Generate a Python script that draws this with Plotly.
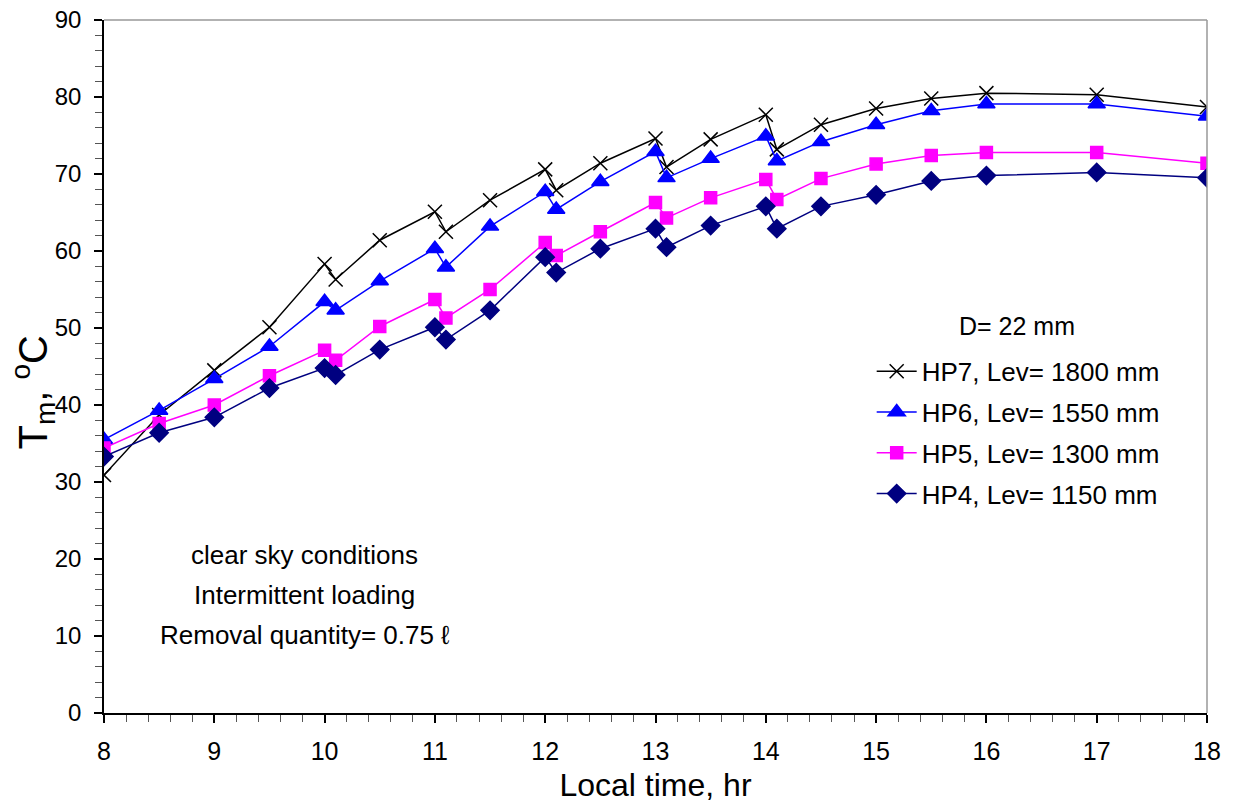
import plotly.graph_objects as go

time_hr = [8, 8.5, 9, 9.5, 10, 10.1, 10.5, 11, 11.1, 11.5, 12, 12.1, 12.5, 13, 13.1,
           13.5, 14, 14.1, 14.5, 15, 15.5, 16, 17, 18]

hp7 = [30.9, 38.7, 44.5, 50.1, 58.3, 56.3, 61.4, 65.1, 62.5, 66.6, 70.6, 67.9, 71.4, 74.6, 70.9,
       74.5, 77.7, 73.2, 76.4, 78.5, 79.8, 80.5, 80.3, 78.7]
hp6 = [35.5, 39.3, 43.4, 47.6, 53.4, 52.3, 56.1, 60.3, 57.9, 63.2, 67.7, 65.4, 69.0, 72.9, 69.5,
       72.0, 74.9, 71.7, 74.2, 76.4, 78.2, 79.1, 79.1, 77.5]
hp5 = [34.4, 37.6, 40.0, 43.8, 47.1, 45.8, 50.2, 53.7, 51.3, 55.0, 61.1, 59.4, 62.5, 66.3, 64.3,
       66.9, 69.3, 66.7, 69.4, 71.3, 72.4, 72.8, 72.8, 71.4]
hp4 = [33.3, 36.4, 38.4, 42.2, 44.8, 43.9, 47.2, 50.1, 48.5, 52.3, 59.2, 57.2, 60.3, 62.9, 60.5,
       63.3, 65.8, 62.9, 65.8, 67.3, 69.1, 69.8, 70.2, 69.5]

names = ["HP7, Lev= 1800 mm", "HP6, Lev= 1550 mm", "HP5, Lev= 1300 mm", "HP4, Lev= 1150 mm"]
colors = ["#000000", "#0000FF", "#FF00FF", "#000080"]
symbols = ["x-thin", "triangle-up", "square", "diamond"]
sizes = [14, 15, 12, 14]

note_lines = ["clear sky conditions", "Intermittent loading", "Removal quantity= 0.75 ℓ"]
note_y = [20.5, 15.3, 10.1]

font_main = "Liberation Sans, Arial, sans-serif"

fig = go.Figure()
for i, (vals, nm, col, sym, sz) in enumerate(zip([hp7, hp6, hp5, hp4], names, colors, symbols, sizes)):
    fig.add_trace(go.Scatter(
        x=time_hr, y=vals, name=nm, mode="lines+markers", legendgroup=f"g{i}",
        line=dict(color=col, width=1.5),
        marker=dict(symbol=sym, size=sz, color=col,
                    line=dict(color=col, width=1.5)),
    ))

fig.update_layout(
    width=1234, height=807,
    margin=dict(l=104, r=27, t=20, b=94, autoexpand=False),
    paper_bgcolor="white", plot_bgcolor="white",
    showlegend=True,
    legend=dict(x=0.696, y=0.527, xanchor="left", yanchor="top",
                font=dict(family=font_main, size=26, color="black"),
                bgcolor="rgba(0,0,0,0)", tracegroupgap=4, itemwidth=40),
    xaxis=dict(range=[8, 18], tickmode="array", tickvals=list(range(8, 19)),
               ticktext=[str(v) for v in range(8, 19)], automargin=False,
               showgrid=False, zeroline=False, showline=True, linecolor="black", linewidth=1.5,
               ticks="outside", ticklen=8, tickcolor="black", tickwidth=1.5,
               minor=dict(dtick=0.2, ticks="outside", ticklen=7, tickcolor="#555555", tickwidth=1),
               tickfont=dict(family=font_main, size=25, color="black"),
               ticklabelstandoff=7, ticklabeloverflow="allow",
               title=dict(text="Local time, hr", font=dict(family=font_main, size=32, color="black"),
                          standoff=10)),
    yaxis=dict(range=[0, 90], dtick=10, automargin=False,
               showgrid=False, zeroline=False, showline=True, linecolor="black", linewidth=1.5,
               ticks="outside", ticklen=8, tickcolor="black", tickwidth=1.5,
               minor=dict(dtick=2, ticks="outside", ticklen=7, tickcolor="#555555", tickwidth=1),
               tickfont=dict(family=font_main, size=24, color="black"),
               ticklabelstandoff=8, ticklabeloverflow="allow"),
)

# y-axis title as an annotation (centered like the reference)
fig.add_annotation(x=-0.064, y=0.463, xref="paper", yref="paper", showarrow=False,
                   text="T<sub>m</sub>, <sup>o</sup>C", textangle=-90,
                   xanchor="center", yanchor="middle",
                   font=dict(family=font_main, size=40, color="black"))

# grey frame on top and right
fig.add_shape(type="line", xref="paper", yref="paper", x0=0, x1=1, y0=1, y1=1,
              line=dict(color="#999999", width=1.5))
fig.add_shape(type="line", xref="paper", yref="paper", x0=1, x1=1, y0=0, y1=1,
              line=dict(color="#999999", width=1.5))

fig.add_annotation(x=16.28, y=50.3, xref="x", yref="y", text="D= 22 mm", showarrow=False,
                   font=dict(family=font_main, size=25, color="black"))
for txt, yy in zip(note_lines, note_y):
    fig.add_annotation(x=9.82, y=yy, xref="x", yref="y", showarrow=False, align="center",
                       text=txt, font=dict(family=font_main, size=26, color="black"))

fig.write_html("out.html", config={"displayModeBar": False},
               post_script="document.body.style.margin='0';")
